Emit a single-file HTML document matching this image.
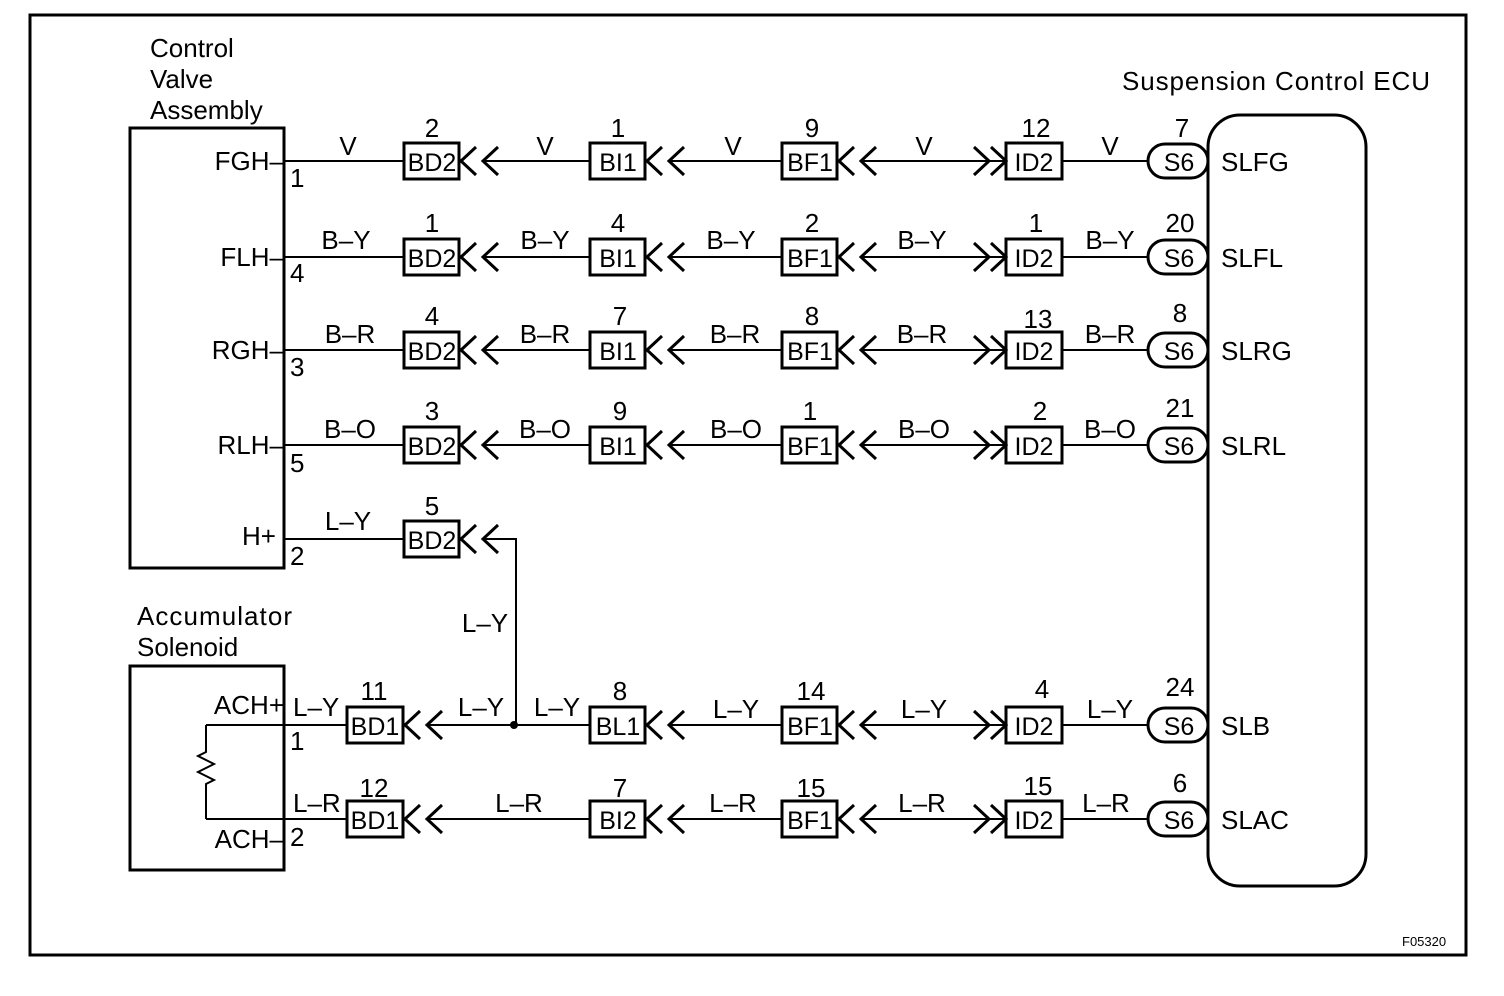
<!DOCTYPE html>
<html><head><meta charset="utf-8"><style>
body{margin:0;background:#fff}
svg{display:block}
text{font-family:"Liberation Sans",sans-serif;font-size:26px;fill:#000}
.c{text-anchor:middle}
.r{text-anchor:end}
.b{font-size:25px}
</style></head><body>
<svg width="1504" height="996" viewBox="0 0 1504 996" xmlns="http://www.w3.org/2000/svg">
<defs>
<g id="ch" fill="none" stroke="#000" stroke-width="3"><polyline points="15,-14 0,0 15,14"/><polyline points="37,-14 22,0 37,14"/></g>
<g id="chr" fill="none" stroke="#000" stroke-width="3"><polyline points="-32,-14 -17,0 -32,14"/><polyline points="-15,-14 0,0 -15,14"/></g>
</defs>
<rect x="30" y="15" width="1436" height="940" fill="none" stroke="#000" stroke-width="3"/>
<g fill="none" stroke="#000" stroke-width="3">
<rect x="130" y="128" width="154" height="440"/>
<rect x="130" y="666" width="154" height="204"/>
<rect x="1208" y="115" width="158" height="771" rx="32"/>
</g>
<text x="150" y="57">Control</text><text x="150" y="88">Valve</text><text x="150" y="119">Assembly</text>
<text x="1122" y="90" textLength="308">Suspension Control ECU</text>
<text x="137" y="625" textLength="155">Accumulator</text><text x="137" y="656">Solenoid</text>

<g stroke="#000" stroke-width="2" fill="none">
<path d="M284 161H404M482 161H590M668 161H782M860 161H1006M1062 161H1148"/>
<path d="M284 257H404M482 257H590M668 257H782M860 257H1006M1062 257H1148"/>
<path d="M284 350H404M482 350H590M668 350H782M860 350H1006M1062 350H1148"/>
<path d="M284 445H404M482 445H590M668 445H782M860 445H1006M1062 445H1148"/>
<path d="M284 539H404M482 539H516V725M428 725H590M668 725H782M860 725H1006M1062 725H1148"/>
<path d="M206 819H347M428 819H590M668 819H782M860 819H1006M1062 819H1148"/>
<path d="M206 725H347M206 725V752l-8 4 16 8 -16 8 16 8 -8 4V819"/>
</g>
<circle cx="514" cy="725" r="4" fill="#000"/>

<g fill="#fff" stroke="#000" stroke-width="3">
<rect x="404" y="143" width="55" height="36"/><rect x="590" y="143" width="55" height="36"/><rect x="782" y="143" width="55" height="36"/><rect x="1006" y="143" width="56" height="36"/><rect x="1148" y="144" width="60" height="34" rx="17"/>
<rect x="404" y="239" width="55" height="36"/><rect x="590" y="239" width="55" height="36"/><rect x="782" y="239" width="55" height="36"/><rect x="1006" y="239" width="56" height="36"/><rect x="1148" y="240" width="60" height="34" rx="17"/>
<rect x="404" y="332" width="55" height="36"/><rect x="590" y="332" width="55" height="36"/><rect x="782" y="332" width="55" height="36"/><rect x="1006" y="332" width="56" height="36"/><rect x="1148" y="333" width="60" height="34" rx="17"/>
<rect x="404" y="427" width="55" height="36"/><rect x="590" y="427" width="55" height="36"/><rect x="782" y="427" width="55" height="36"/><rect x="1006" y="427" width="56" height="36"/><rect x="1148" y="428" width="60" height="34" rx="17"/>
<rect x="404" y="521" width="55" height="36"/>
<rect x="347" y="707" width="56" height="36"/><rect x="590" y="707" width="55" height="36"/><rect x="782" y="707" width="55" height="36"/><rect x="1006" y="707" width="56" height="36"/><rect x="1148" y="708" width="60" height="34" rx="17"/>
<rect x="347" y="801" width="56" height="36"/><rect x="590" y="801" width="55" height="36"/><rect x="782" y="801" width="55" height="36"/><rect x="1006" y="801" width="56" height="36"/><rect x="1148" y="802" width="60" height="34" rx="17"/>
</g>

<use href="#ch" x="461" y="161"/><use href="#ch" x="647" y="161"/><use href="#ch" x="839" y="161"/><use href="#chr" x="1006" y="161"/>
<use href="#ch" x="461" y="257"/><use href="#ch" x="647" y="257"/><use href="#ch" x="839" y="257"/><use href="#chr" x="1006" y="257"/>
<use href="#ch" x="461" y="350"/><use href="#ch" x="647" y="350"/><use href="#ch" x="839" y="350"/><use href="#chr" x="1006" y="350"/>
<use href="#ch" x="461" y="445"/><use href="#ch" x="647" y="445"/><use href="#ch" x="839" y="445"/><use href="#chr" x="1006" y="445"/>
<use href="#ch" x="461" y="539"/>
<use href="#ch" x="405" y="725"/><use href="#ch" x="647" y="725"/><use href="#ch" x="839" y="725"/><use href="#chr" x="1006" y="725"/>
<use href="#ch" x="405" y="819"/><use href="#ch" x="647" y="819"/><use href="#ch" x="839" y="819"/><use href="#chr" x="1006" y="819"/>

<text class="r" x="284" y="170">FGH–</text><text x="290" y="187">1</text>
<text class="c" x="348" y="155">V</text><text class="c" x="545" y="155">V</text><text class="c" x="733" y="155">V</text><text class="c" x="924" y="155">V</text><text class="c" x="1110" y="155">V</text>
<text class="c" x="432" y="137">2</text><text class="c" x="618" y="137">1</text><text class="c" x="812" y="137">9</text><text class="c" x="1036" y="137">12</text><text class="c" x="1182" y="137">7</text>
<text class="c b" x="432" y="171">BD2</text><text class="c b" x="618" y="171">BI1</text><text class="c b" x="810" y="171">BF1</text><text class="c b" x="1034" y="171">ID2</text><text class="c b" x="1179" y="171">S6</text><text x="1221" y="171">SLFG</text>

<text class="r" x="284" y="266">FLH–</text><text x="290" y="282">4</text>
<text class="c" x="346" y="249">B–Y</text><text class="c" x="545" y="249">B–Y</text><text class="c" x="731" y="249">B–Y</text><text class="c" x="922" y="249">B–Y</text><text class="c" x="1110" y="249">B–Y</text>
<text class="c" x="432" y="232">1</text><text class="c" x="618" y="232">4</text><text class="c" x="812" y="232">2</text><text class="c" x="1036" y="232">1</text><text class="c" x="1180" y="232">20</text>
<text class="c b" x="432" y="267">BD2</text><text class="c b" x="618" y="267">BI1</text><text class="c b" x="810" y="267">BF1</text><text class="c b" x="1034" y="267">ID2</text><text class="c b" x="1179" y="267">S6</text><text x="1221" y="267">SLFL</text>

<text class="r" x="284" y="359">RGH–</text><text x="290" y="376">3</text>
<text class="c" x="350" y="343">B–R</text><text class="c" x="545" y="343">B–R</text><text class="c" x="735" y="343">B–R</text><text class="c" x="922" y="343">B–R</text><text class="c" x="1110" y="343">B–R</text>
<text class="c" x="432" y="325">4</text><text class="c" x="620" y="325">7</text><text class="c" x="812" y="325">8</text><text class="c" x="1038" y="328">13</text><text class="c" x="1180" y="322">8</text>
<text class="c b" x="432" y="360">BD2</text><text class="c b" x="618" y="360">BI1</text><text class="c b" x="810" y="360">BF1</text><text class="c b" x="1034" y="360">ID2</text><text class="c b" x="1179" y="360">S6</text><text x="1221" y="360">SLRG</text>

<text class="r" x="284" y="454">RLH–</text><text x="290" y="472">5</text>
<text class="c" x="350" y="438">B–O</text><text class="c" x="545" y="438">B–O</text><text class="c" x="736" y="438">B–O</text><text class="c" x="924" y="438">B–O</text><text class="c" x="1110" y="438">B–O</text>
<text class="c" x="432" y="420">3</text><text class="c" x="620" y="420">9</text><text class="c" x="810" y="420">1</text><text class="c" x="1040" y="420">2</text><text class="c" x="1180" y="417">21</text>
<text class="c b" x="432" y="455">BD2</text><text class="c b" x="618" y="455">BI1</text><text class="c b" x="810" y="455">BF1</text><text class="c b" x="1034" y="455">ID2</text><text class="c b" x="1179" y="455">S6</text><text x="1221" y="455">SLRL</text>

<text class="r" x="276" y="545">H+</text><text x="290" y="565">2</text>
<text class="c" x="348" y="530">L–Y</text><text class="c" x="432" y="515">5</text><text class="c b" x="432" y="549">BD2</text>
<text class="c" x="485" y="632">L–Y</text>

<text class="r" x="284" y="714">ACH+</text><text x="290" y="750">1</text>
<text x="293" y="716">L–Y</text><text class="c" x="481" y="716">L–Y</text><text class="c" x="557" y="716">L–Y</text><text class="c" x="736" y="718">L–Y</text><text class="c" x="924" y="718">L–Y</text><text class="c" x="1110" y="718">L–Y</text>
<text class="c" x="374" y="700">11</text><text class="c" x="620" y="700">8</text><text class="c" x="811" y="700">14</text><text class="c" x="1042" y="698">4</text><text class="c" x="1180" y="696">24</text>
<text class="c b" x="375" y="735">BD1</text><text class="c b" x="618" y="735">BL1</text><text class="c b" x="810" y="735">BF1</text><text class="c b" x="1034" y="735">ID2</text><text class="c b" x="1179" y="735">S6</text><text x="1221" y="735">SLB</text>

<text class="r" x="284" y="848">ACH–</text><text x="290" y="846">2</text>
<text x="293" y="812">L–R</text><text class="c" x="519" y="812">L–R</text><text class="c" x="733" y="812">L–R</text><text class="c" x="922" y="812">L–R</text><text class="c" x="1106" y="812">L–R</text>
<text class="c" x="374" y="797">12</text><text class="c" x="620" y="797">7</text><text class="c" x="811" y="797">15</text><text class="c" x="1038" y="795">15</text><text class="c" x="1180" y="792">6</text>
<text class="c b" x="375" y="829">BD1</text><text class="c b" x="618" y="829">BI2</text><text class="c b" x="810" y="829">BF1</text><text class="c b" x="1034" y="829">ID2</text><text class="c b" x="1179" y="829">S6</text><text x="1221" y="829">SLAC</text>
<text x="1402" y="946" style="font-size:13px">F05320</text>
</svg>
</body></html>
